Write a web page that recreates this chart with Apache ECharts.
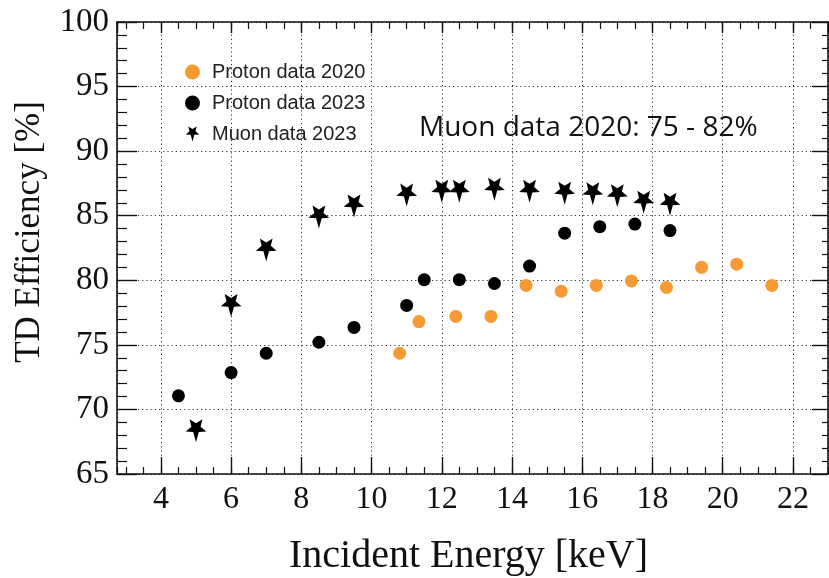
<!DOCTYPE html>
<html>
<head>
<meta charset="utf-8">
<title>TD Efficiency vs Incident Energy</title>
<script src="https://cdn.jsdelivr.net/npm/echarts@6/dist/echarts.min.js"></script>
<style>
  html, body { margin: 0; padding: 0; background: #ffffff; }
  #chart { width: 829px; height: 578px; }
</style>
</head>
<body>
<div id="chart"></div>
<script>
// Incident energy [keV] and TD efficiency [%] per data set
const proton2020Energy = [10.8, 11.35, 12.4, 13.4, 14.4, 15.4, 16.4, 17.4, 18.4, 19.4, 20.4, 21.4];
const proton2020Eff    = [74.35, 76.8, 77.2, 77.2, 79.6, 79.15, 79.6, 79.95, 79.45, 81.0, 81.25, 79.6];

const proton2023Energy = [4.5, 6.0, 7.0, 8.5, 9.5, 11.0, 11.5, 12.5, 13.5, 14.5, 15.5, 16.5, 17.5, 18.5];
const proton2023Eff    = [71.05, 72.85, 74.35, 75.2, 76.35, 78.05, 80.05, 80.05, 79.75, 81.1, 83.65, 84.15, 84.35, 83.85];

const muon2023Energy = [5.0, 6.0, 7.0, 8.5, 9.5, 11.0, 12.0, 12.5, 13.5, 14.5, 15.5, 16.3, 17.0, 17.75, 18.5];
const muon2023Eff    = [68.5, 78.2, 82.5, 85.05, 85.9, 86.75, 87.05, 87.05, 87.2, 87.05, 86.9, 86.85, 86.7, 86.2, 86.05];

const seriesNames = ['Proton data 2020', 'Proton data 2023', 'Muon data 2023'];
const xTicks = [4, 6, 8, 10, 12, 14, 16, 18, 20, 22];
const yTicks = [65, 70, 75, 80, 85, 90, 95, 100];
const noteText = 'Muon data 2020: 75 - 82%';

function pairs(xs, ys) { return xs.map((x, i) => [x, ys[i]]); }

// Downward-pointing five-armed star marker with a slightly longer lower arm
function starSymbol() {
  const pts = [];
  for (let k = 0; k < 10; k++) {
    const ang = (90 + k * 36) * Math.PI / 180;
    let r = (k % 2 === 0) ? 10 : 4.4;
    if (k === 0) r = 13;
    pts.push([r * Math.cos(ang), r * Math.sin(ang)]);
  }
  return 'path://M' + pts.map(p => p[0].toFixed(2) + ',' + p[1].toFixed(2)).join(' L') + ' Z';
}

const serif = 'Liberation Serif';
const gridDots = { show: true, lineStyle: { color: '#333', width: 1, type: [1.2, 3] } };

function majorX(pos, tickLen, withLabels) {
  return {
    type: 'value', position: pos, min: 2.75, max: 23, splitNumber: 10,
    axisLine: { show: true, lineStyle: { color: '#111', width: 1.6 } },
    axisTick: { show: true, inside: true, length: tickLen, lineStyle: { color: '#111', width: 1.4 } },
    axisLabel: withLabels ? {
      show: true, margin: 10, fontFamily: serif, fontSize: 32, color: '#111',
      showMinLabel: false, showMaxLabel: false,
      formatter: v => (xTicks.indexOf(v) >= 0 ? String(v) : '')
    } : { show: false },
    splitLine: withLabels ? gridDots : { show: false },
    name: withLabels ? 'Incident Energy [keV]' : '',
    nameLocation: 'middle', nameGap: 62,
    nameTextStyle: { fontFamily: serif, fontSize: 40, color: '#111', padding: [0, 8, 0, 0] }
  };
}
function minorX(pos, tickLen) {
  return {
    type: 'value', position: pos, min: 2.75, max: 23, splitNumber: 40,
    axisLine: { show: false },
    axisTick: { show: true, inside: true, length: tickLen, lineStyle: { color: '#111', width: 1.2 } },
    axisLabel: { show: false }, splitLine: { show: false }
  };
}
function yAx(pos, majLen, minLen, withLabels) {
  return {
    type: 'value', position: pos, min: 65, max: 100, interval: 5,
    axisLine: { show: true, lineStyle: { color: '#111', width: 1.6 } },
    axisTick: { show: true, inside: true, length: majLen, lineStyle: { color: '#111', width: 1.4 } },
    minorTick: { show: true, splitNumber: 5, length: minLen, lineStyle: { color: '#111', width: 1.2 } },
    axisLabel: withLabels ? {
      show: true, margin: 8, fontFamily: serif, fontSize: 33, color: '#111',
      formatter: v => (yTicks.indexOf(v) >= 0 ? String(v) : '')
    } : { show: false },
    splitLine: withLabels ? gridDots : { show: false },
    name: withLabels ? 'TD Efficiency [%]' : '',
    nameLocation: 'middle', nameRotate: 90, nameGap: 70,
    nameTextStyle: { fontFamily: serif, fontSize: 35, color: '#111', padding: [0, 0, 0, 32] }
  };
}

const chart = echarts.init(document.getElementById('chart'), null, { renderer: 'canvas' });
chart.setOption({
  animation: false,
  backgroundColor: '#ffffff',
  grid: { left: 117, right: 1, top: 22, bottom: 104, containLabel: false, outerBoundsMode: 'none' },
  xAxis: [majorX('bottom', 17, true), majorX('top', 11, false), minorX('bottom', 7), minorX('top', 7)],
  yAxis: [yAx('left', 20, 10, true), yAx('right', 16, 6, false)],
  legend: {
    orient: 'vertical', left: 180, top: 57,
    itemWidth: 15, itemHeight: 15, itemGap: 11,
    data: seriesNames,
    textStyle: { fontFamily: 'Liberation Sans', fontSize: 20, color: '#222', padding: [0, 0, 0, 7] }
  },
  graphic: [{
    type: 'text', left: 419, top: 114,
    style: { text: noteText, font: '28px "Open Sans"', fill: '#111' }
  }],
  series: [
    {
      name: seriesNames[0], type: 'scatter', xAxisIndex: 0, yAxisIndex: 0,
      symbol: 'circle', symbolSize: 13,
      itemStyle: { color: '#f89a34', opacity: 1 },
      data: pairs(proton2020Energy, proton2020Eff)
    },
    {
      name: seriesNames[1], type: 'scatter', xAxisIndex: 0, yAxisIndex: 0,
      symbol: 'circle', symbolSize: 13,
      itemStyle: { color: '#000000', opacity: 1 },
      data: pairs(proton2023Energy, proton2023Eff)
    },
    {
      name: seriesNames[2], type: 'scatter', xAxisIndex: 0, yAxisIndex: 0,
      symbol: starSymbol(), symbolSize: 23, symbolKeepAspect: true, symbolOffset: [0, 2],
      itemStyle: { color: '#000000', opacity: 1 },
      data: pairs(muon2023Energy, muon2023Eff)
    }
  ]
});
</script>
</body>
</html>
